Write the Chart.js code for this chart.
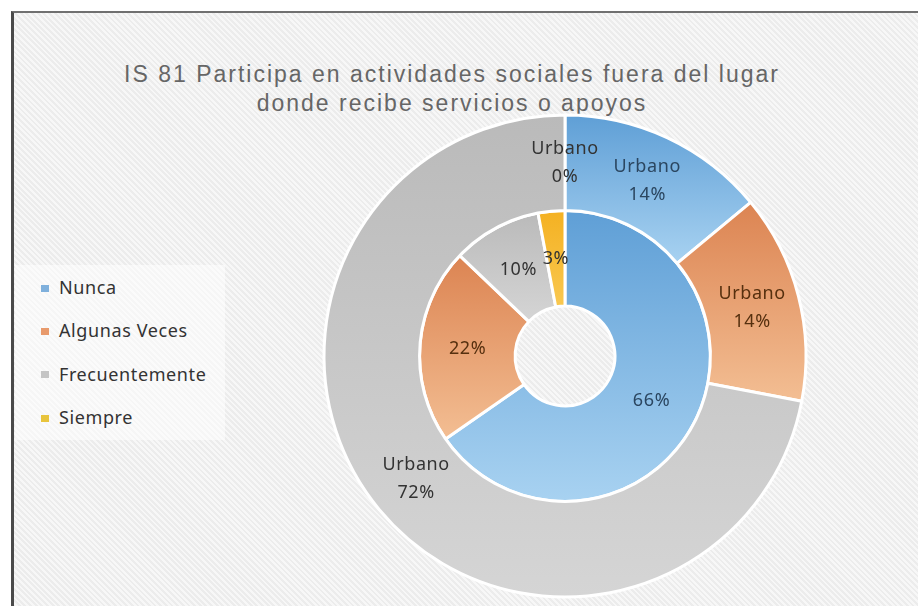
<!DOCTYPE html>
<html>
<head>
<meta charset="utf-8">
<script src="https://cdn.jsdelivr.net/npm/chart.js@4.4.0/dist/chart.umd.min.js"></script>
<style>
    body { margin: 0; width: 918px; height: 606px; background: #fff; overflow: hidden; position: relative; }
    #marco {
        position: absolute; left: 11px; top: 11px; width: 920px; height: 600px;
        border-top: 2px solid #707070; border-left: 3px solid #4a4a4a;
        background: repeating-linear-gradient(45deg, #ececec 0px, #ececec 2px, #f7f7f7 2px, #f7f7f7 4px);
    }
    #titulo {
        position: absolute; left: 0; top: 60px; width: 904px; text-align: center;
        font-family: "Liberation Sans", Arial, sans-serif; font-size: 23px; line-height: 29px;
        letter-spacing: 2px; color: #666666;
    }
    #cajaLeyenda { position: absolute; left: 15px; top: 265px; width: 210px; height: 175px; background: rgba(255,255,255,0.55); }
    #leyenda { position: absolute; left: 41px; top: 266px; font-family: "Noto Sans", sans-serif; font-size: 18px; color: #333; }
    #leyenda div { height: 43.3px; line-height: 43.3px; letter-spacing: 0.6px; white-space: nowrap; }
    #leyenda span { display: inline-block; width: 8px; height: 7px; margin-right: 10px; vertical-align: middle; position: relative; top: -1px; }
    #grafico { position: absolute; left: 0; top: 0; }
</style>
</head>
<body>
<div id="marco"></div>
<div id="titulo">IS 81 Participa en actividades sociales fuera del lugar<br>donde recibe servicios o apoyos</div>
<div id="cajaLeyenda"></div>
<div id="leyenda"></div>
<canvas id="grafico" width="918" height="606"></canvas>
<script>
    // Datos
    const categorias = ['Nunca', 'Algunas Veces', 'Frecuentemente', 'Siempre'];
    const urbano = [14, 14, 72, 0];
    const anilloInterior = [66, 22, 10, 3];

    // Colores (degradado de arriba hacia abajo en cada porción)
    const coloresArriba = ['#5f9fd6', '#dc8452', '#bababa', '#f4b122'];
    const coloresAbajo = ['#a8d2f1', '#f3be93', '#d5d5d5', '#f9c850'];
    const coloresLeyenda = ['#7fb0dc', '#e89a6c', '#c4c4c4', '#e8c43c'];
    const coloresTexto = ['#2b4660', '#56300f', '#333333', '#333333'];

    // Leyenda
    const leyenda = document.getElementById('leyenda');
    categorias.forEach((cat, i) => {
        const fila = document.createElement('div');
        const cuadro = document.createElement('span');
        cuadro.style.background = coloresLeyenda[i];
        fila.appendChild(cuadro);
        fila.appendChild(document.createTextNode(cat));
        leyenda.appendChild(fila);
    });

    // Degradado vertical por porción
    const degradado = {
        id: 'degradado',
        beforeDatasetsDraw(chart) {
            const ctx = chart.ctx;
            chart.data.datasets.forEach((ds, i) => {
                chart.getDatasetMeta(i).data.forEach((arc, j) => {
                    const p = arc.getProps(['x', 'y', 'startAngle', 'endAngle', 'innerRadius', 'outerRadius']);
                    const ys = [];
                    [p.startAngle, p.endAngle].forEach(a => {
                        ys.push(p.y + p.outerRadius * Math.sin(a), p.y + p.innerRadius * Math.sin(a));
                    });
                    [Math.PI / 2, 3 * Math.PI / 2].forEach(a => {
                        if (a > p.startAngle && a < p.endAngle) ys.push(p.y + p.outerRadius * Math.sin(a));
                    });
                    const arriba = Math.min(...ys);
                    const abajo = Math.max(...ys);
                    if (abajo - arriba < 1) return;
                    const g = ctx.createLinearGradient(0, arriba, 0, abajo);
                    g.addColorStop(0, coloresArriba[j]);
                    g.addColorStop(1, coloresAbajo[j]);
                    arc.options.backgroundColor = g;
                });
            });
        }
    };

    // Etiquetas de datos
    const etiquetas = {
        id: 'etiquetas',
        afterDatasetsDraw(chart) {
            const ctx = chart.ctx;
            ctx.save();
            ctx.font = '18px "Noto Sans"';
            ctx.letterSpacing = '0.6px';
            ctx.textAlign = 'center';
            ctx.textBaseline = 'middle';
            chart.data.datasets.forEach((ds, i) => {
                chart.getDatasetMeta(i).data.forEach((arc, j) => {
                    const pos = arc.tooltipPosition();
                    const lineas = ds.label ? [ds.label, ds.data[j] + '%'] : [ds.data[j] + '%'];
                    ctx.fillStyle = coloresTexto[j];
                    lineas.forEach((t, k) => {
                        ctx.fillText(t, pos.x, pos.y + (k - (lineas.length - 1) / 2) * 28);
                    });
                });
            });
            ctx.restore();
        }
    };

    new Chart(document.getElementById('grafico'), {
        type: 'doughnut',
        data: {
            labels: categorias,
            datasets: [
                { label: 'Urbano', data: urbano, backgroundColor: coloresArriba, borderColor: '#ffffff', borderWidth: 3 },
                { label: '', data: anilloInterior, backgroundColor: coloresArriba, borderColor: '#ffffff', borderWidth: 3 }
            ]
        },
        options: {
            responsive: false,
            animation: false,
            events: [],
            devicePixelRatio: 1,
            radius: 241,
            cutout: '20.7%',
            layout: { padding: { left: 300, right: 88, top: 120, bottom: 14 } },
            plugins: {
                legend: { display: false },
                title: { display: false },
                tooltip: { enabled: false }
            }
        },
        plugins: [degradado, etiquetas]
    });
</script>
</body>
</html>
